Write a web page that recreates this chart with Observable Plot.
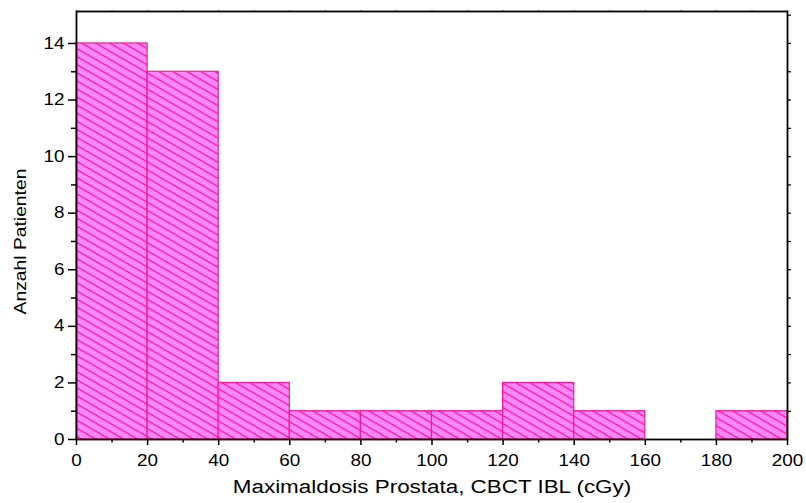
<!DOCTYPE html>
<html>
<head>
<meta charset="utf-8">
<script src="https://cdn.jsdelivr.net/npm/d3@7"></script>
<script src="https://cdn.jsdelivr.net/npm/@observablehq/plot@0.6"></script>
<style>
  html, body { margin: 0; padding: 0; background: #fff; }
</style>
</head>
<body>
<div id="chart"></div>
<script>
// Histogram of maximum prostate dose (CBCT IBL), 20 cGy bins
const binLower = [0, 20, 40, 60, 80, 100, 120, 140, 160, 180];
const binUpper = [20, 40, 60, 80, 100, 120, 140, 160, 180, 200];
const patients = [14, 13, 2, 1, 1, 1, 2, 1, 0, 1];

const xMajorTicks = [0, 20, 40, 60, 80, 100, 120, 140, 160, 180, 200];
const xMinorTicks = [10, 30, 50, 70, 90, 110, 130, 150, 170, 190];
const yMajorTicks = [0, 2, 4, 6, 8, 10, 12, 14];
const yMinorTicks = [1, 3, 5, 7, 9, 11, 13];
const yEdgeTicks = [1, 2, 3, 4, 5, 6, 7, 8, 9, 10, 11, 12, 13, 14, 15];

const xTitle = "Maximaldosis Prostata, CBCT IBL (cGy)";
const yTitle = "Anzahl Patienten";

const bins = binLower.map((lo, i) => ({lo, hi: binUpper[i], n: patients[i]}))
  .filter(d => d.n > 0);

const noText = () => "";

const svg = Plot.plot({
  width: 806,
  height: 503,
  marginLeft: 76,
  marginRight: 19,
  marginTop: 11,
  marginBottom: 64,
  style: {fontFamily: "'Liberation Sans', Arial, sans-serif", fontSize: "16px", color: "#000", background: "#fff"},
  x: {domain: [0, 200]},
  y: {domain: [0, 15.13]},
  marks: [
    Plot.rectY(bins, {x1: "lo", x2: "hi", y: "n", fill: "url(#hatch)", stroke: "#ff1493", strokeWidth: 1.2}),
    // bottom axis: labelled major ticks and minor ticks
    Plot.axisX({ticks: xMajorTicks, tickSize: 6, tickPadding: 9, tickFormat: d => d, label: null, strokeWidth: 1.5}),
    Plot.axisX({ticks: xMinorTicks, tickSize: 3.5, tickFormat: noText, label: null, strokeWidth: 1.5}),
    // left axis: labelled even ticks, minor odd ticks
    Plot.axisY({ticks: yMajorTicks, tickSize: 8, tickPadding: 4, tickFormat: d => d, label: null, strokeWidth: 1.5}),
    Plot.axisY({ticks: yMinorTicks, tickSize: 5, tickFormat: noText, label: null, strokeWidth: 1.5}),
    // small ticks along the top and right edges
    Plot.axisX({anchor: "top", ticks: xMinorTicks.concat(xMajorTicks), tickSize: 2, tickFormat: noText, label: null, strokeOpacity: 0.5}),
    Plot.axisY({anchor: "right", ticks: yEdgeTicks, tickSize: 3, tickFormat: noText, label: null, strokeWidth: 1.2}),
    Plot.frame({stroke: "#000", strokeWidth: 1.8}),
    // axis titles
    Plot.text([xTitle], {frameAnchor: "bottom", text: d => d, textAnchor: "middle", dy: 53, fontSize: 19, lineAnchor: "bottom"}),
    Plot.text([yTitle], {frameAnchor: "left", text: d => d, textAnchor: "middle", rotate: -90, dx: -56, dy: 16, fontSize: 16.5})
  ]
});

// diagonal hatch used as the bar fill
const defs = d3.select(svg).insert("defs", ":first-child");
const pat = defs.append("pattern")
  .attr("id", "hatch")
  .attr("patternUnits", "userSpaceOnUse")
  .attr("width", 14)
  .attr("height", 7)
  .attr("patternTransform", "rotate(30)");
pat.append("rect").attr("width", 14).attr("height", 7).attr("fill", "#ff88ff");
pat.append("line").attr("x1", 0).attr("x2", 14).attr("y1", 3.5).attr("y2", 3.5)
  .attr("stroke", "#ff1493").attr("stroke-width", 1.3);

document.getElementById("chart").appendChild(svg);

// widen the lettering along the text direction, about each label's anchor point
d3.select(svg).selectAll("text").each(function () {
  if (!this.textContent) return;
  const f = this.textContent === yTitle ? 1.17 : 1.18;
  const px = +(this.getAttribute("x") || 0);
  const t = this.getAttribute("transform") || "";
  this.setAttribute("transform",
    `${t} translate(${px},0) scale(${f},1) translate(${-px},0)`.trim());
});
</script>
</body>
</html>
